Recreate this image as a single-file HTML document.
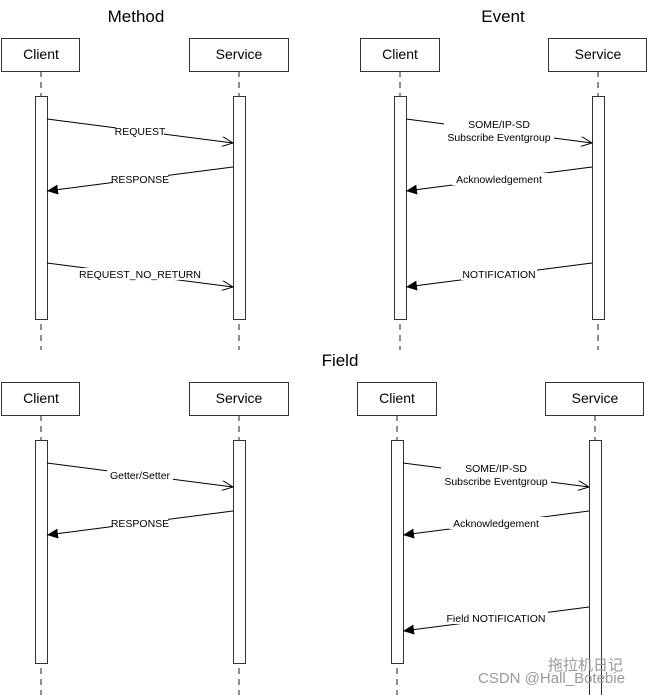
<!DOCTYPE html>
<html><head><meta charset="utf-8"><style>
html,body{margin:0;padding:0;background:#fff;}
svg{display:block;}
text{font-family:"Liberation Sans",sans-serif;fill:#000;}
.t{font-size:17px;}
.b{font-size:14px;}
.l{font-size:10.5px;}
</style></head><body>
<svg width="649" height="695" viewBox="0 0 649 695" xmlns="http://www.w3.org/2000/svg">
<defs>
<marker id="op" markerWidth="12" markerHeight="10" refX="11" refY="5" orient="auto" markerUnits="userSpaceOnUse"><path d="M0,0 L11,5 L0,10" fill="none" stroke="#000" stroke-width="1"/></marker>
<marker id="fl" markerWidth="12" markerHeight="10" refX="11" refY="5" orient="auto" markerUnits="userSpaceOnUse"><path d="M0,0 L11,5 L0,10 Z" fill="#000"/></marker>
</defs>
<g stroke="#444" stroke-width="1.2" stroke-dasharray="6,5" fill="none">
<line x1="41" y1="71" x2="41" y2="350"/><line x1="239" y1="71" x2="239" y2="350"/>
<line x1="400" y1="71" x2="400" y2="350"/><line x1="598" y1="71" x2="598" y2="350"/>
<line x1="41" y1="415" x2="41" y2="695"/><line x1="239" y1="415" x2="239" y2="695"/>
<line x1="397" y1="415" x2="397" y2="695"/><line x1="595" y1="415" x2="595" y2="695"/>
</g>
<g fill="#fff" stroke="#333" stroke-width="1">
<rect x="1.5" y="38.5" width="78" height="33"/><rect x="189.5" y="38.5" width="99" height="33"/>
<rect x="360.5" y="38.5" width="79" height="33"/><rect x="548.5" y="38.5" width="98" height="33"/>
<rect x="1.5" y="382.5" width="78" height="33"/><rect x="189.5" y="382.5" width="99" height="33"/>
<rect x="357.5" y="382.5" width="79" height="33"/><rect x="545.5" y="382.5" width="98" height="33"/>
<rect x="35.5" y="96.5" width="12" height="223"/><rect x="233.5" y="96.5" width="12" height="223"/>
<rect x="394.5" y="96.5" width="12" height="223"/><rect x="592.5" y="96.5" width="12" height="223"/>
<rect x="35.5" y="440.5" width="12" height="223"/><rect x="233.5" y="440.5" width="12" height="223"/>
<rect x="391.5" y="440.5" width="12" height="223"/><rect x="589.5" y="440.5" width="12" height="260"/>
</g>
<g class="t" text-anchor="middle">
<text x="136" y="22">Method</text><text x="503" y="22">Event</text><text x="340" y="366">Field</text>
</g>
<g class="b" text-anchor="middle">
<text x="41" y="59">Client</text><text x="239" y="59">Service</text>
<text x="400" y="59">Client</text><text x="598" y="59">Service</text>
<text x="41" y="403">Client</text><text x="239" y="403">Service</text>
<text x="397" y="403">Client</text><text x="595" y="403">Service</text>
</g>
<g stroke="#000" stroke-width="1">
<line x1="47" y1="119" x2="233" y2="143" marker-end="url(#op)"/>
<line x1="233" y1="167" x2="47" y2="191" marker-end="url(#fl)"/>
<line x1="47" y1="263" x2="233" y2="287" marker-end="url(#op)"/>
<line x1="406" y1="119" x2="592" y2="143" marker-end="url(#op)"/>
<line x1="592" y1="167" x2="406" y2="191" marker-end="url(#fl)"/>
<line x1="592" y1="263" x2="406" y2="287" marker-end="url(#fl)"/>
<line x1="47" y1="463" x2="233" y2="487" marker-end="url(#op)"/>
<line x1="233" y1="511" x2="47" y2="535" marker-end="url(#fl)"/>
<line x1="403" y1="463" x2="589" y2="487" marker-end="url(#op)"/>
<line x1="589" y1="511" x2="403" y2="535" marker-end="url(#fl)"/>
<line x1="589" y1="607" x2="403" y2="631" marker-end="url(#fl)"/>
</g>
<g fill="#fff">
<rect x="116" y="125" width="48" height="12"/><rect x="113" y="173" width="55" height="12"/><rect x="82" y="268" width="117" height="12"/>
<rect x="444" y="118" width="110" height="25"/><rect x="452" y="173" width="96" height="12"/><rect x="461" y="268" width="76" height="12"/>
<rect x="107" y="469" width="66" height="12"/><rect x="113" y="517" width="55" height="12"/>
<rect x="441" y="462" width="110" height="25"/><rect x="449" y="517" width="96" height="12"/><rect x="444" y="612" width="104" height="12"/>
</g>
<g class="l" text-anchor="middle">
<text x="140" y="135">REQUEST</text><text x="140" y="183">RESPONSE</text><text x="140" y="278">REQUEST_NO_RETURN</text>
<text x="499" y="128">SOME/IP-SD</text><text x="499" y="141">Subscribe Eventgroup</text>
<text x="499" y="183">Acknowledgement</text><text x="499" y="278">NOTIFICATION</text>
<text x="140" y="479">Getter/Setter</text><text x="140" y="527">RESPONSE</text>
<text x="496" y="472">SOME/IP-SD</text><text x="496" y="485">Subscribe Eventgroup</text>
<text x="496" y="527">Acknowledgement</text><text x="496" y="622">Field NOTIFICATION</text>
</g>
<text x="548" y="670" style="font-size:15px;fill:#999;font-family:'Liberation Sans','Noto Sans CJK SC',sans-serif">拖拉机日记</text>
<text x="478" y="683" style="font-size:15px;fill:#999">CSDN @Hall_Botebie</text>
</svg>
</body></html>
